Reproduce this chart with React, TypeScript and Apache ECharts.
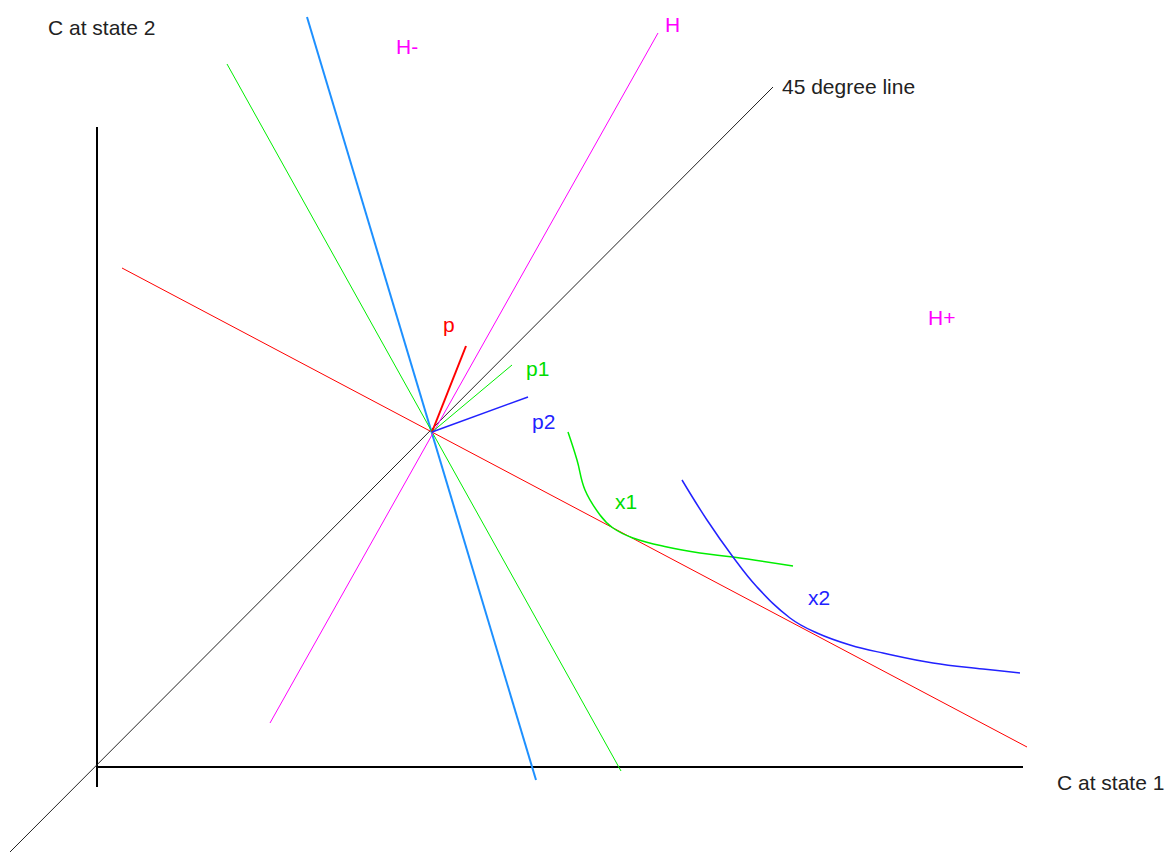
import React, { useEffect, useRef } from "react";
import * as echarts from "echarts";

// Data coordinates: origin at the axes' corner, x to the right, y upward.
const yAxisLine: number[][] = [[0, 640], [0, -20]];
const xAxisLine: number[][] = [[0, 0], [926, 0]];
const line45: number[][] = [[-87, -85], [676, 680]];
const budgetLine: number[][] = [[25, 499], [930, 20]];
const lightBlueLine: number[][] = [[210, 750], [439, -13]];
const greenLine: number[][] = [[130, 703], [524, -4]];
const hLine: number[][] = [[173, 44], [561, 734]];
const pVector: number[][] = [[335, 335], [369, 421]];
const p1Vector: number[][] = [[335, 335], [415, 402]];
const p2Vector: number[][] = [[335, 335], [431, 370]];
const x1Curve: number[][] = [
  [471, 335], [480, 307], [488, 277], [503, 252], [516, 239], [536, 229],
  [570, 220], [603, 214], [636, 210], [696, 201],
];
const x2Curve: number[][] = [
  [585, 287], [610, 247], [636, 210], [660, 180], [693, 149], [720, 134],
  [753, 122], [786, 114], [836, 104], [886, 98], [923, 94],
];

const labels = [
  { text: "C at state 2", color: "#222", x: 48, y: 28 },
  { text: "H-", color: "#ff00ff", x: 396, y: 47 },
  { text: "H", color: "#ff00ff", x: 665, y: 25 },
  { text: "45 degree line", color: "#222", x: 782, y: 87 },
  { text: "p", color: "#ff0000", x: 443, y: 325 },
  { text: "p1", color: "#00dd00", x: 526, y: 369 },
  { text: "p2", color: "#2222ff", x: 532, y: 422 },
  { text: "x1", color: "#00dd00", x: 615, y: 502 },
  { text: "x2", color: "#2222ff", x: 808, y: 598 },
  { text: "H+", color: "#ff00ff", x: 928, y: 318 },
  { text: "C at state 1", color: "#222", x: 1057, y: 783 },
];

function seg(name: string, data: number[][], color: string, width: number, smooth: number | boolean = false) {
  return {
    name,
    type: "line",
    data,
    showSymbol: false,
    symbol: "none",
    smooth,
    lineStyle: { color, width },
    silent: true,
  };
}

export default function App() {
  const ref = useRef<HTMLDivElement>(null);
  useEffect(() => {
    if (!ref.current) return;
    const chart = echarts.init(ref.current, undefined, { renderer: "svg" });
    chart.setOption({
      animation: false,
      backgroundColor: "#ffffff",
      grid: { left: 0, top: 0, width: 1173, height: 853 },
      xAxis: { type: "value", min: -97, max: 1076, show: false },
      yAxis: { type: "value", min: -86, max: 767, show: false },
      series: [
        seg("yaxis", yAxisLine, "#000000", 2),
        seg("xaxis", xAxisLine, "#000000", 2),
        seg("45", line45, "#222222", 1),
        seg("budget", budgetLine, "#ff0000", 1),
        seg("lightblue", lightBlueLine, "#1e90ff", 2),
        seg("green", greenLine, "#00ee00", 1),
        seg("H", hLine, "#ff00ff", 1),
        seg("p", pVector, "#ff0000", 2),
        seg("p1", p1Vector, "#00ee00", 1),
        seg("p2", p2Vector, "#2222ff", 1.5),
        seg("x1", x1Curve, "#00ee00", 1.5, 0.4),
        seg("x2", x2Curve, "#2222ff", 1.5, 0.4),
      ],
      graphic: labels.map((l) => ({
        type: "text",
        left: l.x,
        top: l.y - 11,
        style: {
          text: l.text,
          fill: l.color,
          font: "21px 'Liberation Sans', Arial, sans-serif",
        },
        silent: true,
      })),
    });
    return () => chart.dispose();
  }, []);
  return (
    <div
      ref={ref}
      style={{ position: "absolute", left: 0, top: 0, width: 1173, height: 853, background: "#fff" }}
    />
  );
}
